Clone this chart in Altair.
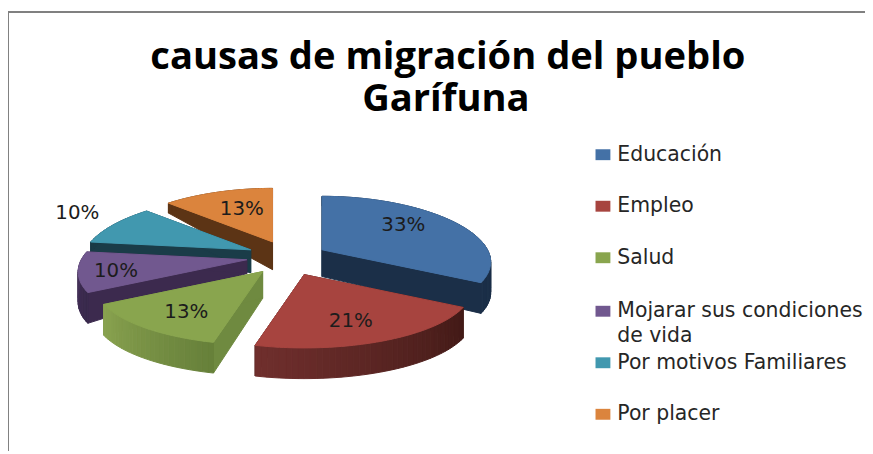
import math
import altair as alt

# ---- data ----
CATEGORIES = ["Educación", "Empleo", "Salud", "Mojarar sus condiciones", "Por motivos Familiares", "Por placer"]
VALUES = [33, 21, 13, 10, 10, 13]
LABELS = ["33%", "21%", "13%", "10%", "10%", "13%"]
TITLE_LINES = ["causas de migración del pueblo", "Garífuna"]

# ---- style / layout (page pixels, reduced by the 8px body margin below) ----
TOP = ["#4471a6", "#a7443f", "#89a54e", "#71588f", "#4198af", "#db843d"]
WALL_A = ["#22405f", "#702f2d", "#8aa350", "#4a3660", "#1a3c48", "#5c3415"]
WALL_B = ["#1b2f48", "#421a17", "#66803a", "#38284a", "#1a3c48", "#5c3415"]
RADIAL = ["#1b2f48", "#421a17", "#6f8a40", "#3c2a4e", "#1a3c48", "#5c3415"]
APEX = [(323, 250), (305, 275), (263, 272), (247, 260), (251, 250), (273, 242)]
APEX_DEPTH = [27, 27, 27, 14, 23, 28]
LABEL_POS = [(404, 225), (351, 322), (185, 313), (114, 271), (75, 213), (241, 209)]
LEGEND_Y = [154, 206, 258, 312, 364, 416]
RX, RY, P, Q = 167, 64, 0.2, 10
M = 8
MX = 3
MX_PIE = 6
MX_LABEL = 5
DRAW_ORDER = [5, 4, 3, 2, 0, 1]


def rim(i, th):
    s, c = math.sin(th), math.cos(th)
    ax, ay = APEX[i]
    return ax + RX * s * (1 - P * c), ay - c * (RY - Q * c)


def rim_depth(th):
    c = math.cos(th)
    if c <= -0.2:
        return 31.0
    return max(10.0, 31 - (c + 0.2) / 0.325 * 21)


def mix(a, b, t):
    ca = [int(a[k:k + 2], 16) for k in (1, 3, 5)]
    cb = [int(b[k:k + 2], 16) for k in (1, 3, 5)]
    return "#%02x%02x%02x" % tuple(round(x + (y - x) * t) for x, y in zip(ca, cb))


def feature(points, color):
    ring = [[x - MX_PIE, y - M] for x, y in points]
    ring.append(ring[0])
    return {
        "type": "Feature",
        "properties": {"c": color},
        "geometry": {"type": "Polygon", "coordinates": [ring]},
    }


total = sum(VALUES)
starts, acc = [], 0
for v in VALUES:
    starts.append(acc / total * 2 * math.pi)
    acc += v

features = []
for i in DRAW_ORDER:
    a0 = starts[i]
    a1 = a0 + VALUES[i] / total * 2 * math.pi
    ax, ay = APEX[i]
    d0 = APEX_DEPTH[i]
    for th in (a0, a1):
        x, y = rim(i, th)
        features.append(feature(
            [(ax, ay), (x, y), (x, y + rim_depth(th)), (ax, ay + d0)], RADIAL[i]))
    steps = max(8, VALUES[i] * 2)
    for k in range(steps):
        t0 = a0 + (a1 - a0) * k / steps
        t1 = a0 + (a1 - a0) * (k + 1) / steps
        x0, y0 = rim(i, t0)
        x1, y1 = rim(i, t1)
        # shading runs left to right across the front of the slice
        shade = mix(WALL_B[i], WALL_A[i], (k + 0.5) / steps) if i != 0 else WALL_B[i]
        features.append(feature(
            [(x0, y0), (x1, y1), (x1, y1 + rim_depth(t1)), (x0, y0 + rim_depth(t0))], shade))
    pts = [(ax, ay)]
    n = max(16, VALUES[i] * 3)
    for k in range(n + 1):
        pts.append(rim(i, a0 + (a1 - a0) * k / n))
    features.append(feature(pts, TOP[i]))

pie = alt.Chart(
    alt.InlineData(values={"type": "FeatureCollection", "features": features},
                   format=alt.DataFormat(property="features", type="json"))
).mark_geoshape(strokeWidth=1, strokeJoin="round").encode(
    fill=alt.Fill("properties.c:N", scale=None, legend=None),
    stroke=alt.Stroke("properties.c:N", scale=None, legend=None),
).project(type="identity", scale=1, translate=[0, 0])

label_rows = [{"t": t, "x": p[0] - MX_LABEL, "y": p[1] - M} for t, p in zip(LABELS, LABEL_POS)]
pct = alt.Chart(alt.Data(values=label_rows)).mark_text(
    font="DejaVu Sans", fontSize=20, color="#1c1c1c", baseline="middle", align="center"
).encode(x=alt.X("x:Q", scale=None, axis=None), y=alt.Y("y:Q", scale=None, axis=None), text="t:N")

title_rows = [{"t": TITLE_LINES[0], "x": 447 - MX, "y": 55 - M}, {"t": TITLE_LINES[1], "x": 445 - MX, "y": 98 - M}]
title = alt.Chart(alt.Data(values=title_rows)).mark_text(
    font="Open Sans", fontSize=38.5, fontWeight="bold", color="#000000", baseline="middle", align="center"
).encode(x=alt.X("x:Q", scale=None, axis=None), y=alt.Y("y:Q", scale=None, axis=None), text="t:N")

swatch_rows = [{"x": 596 - MX, "x2": 611 - MX, "y": y - 5.5 - M, "y2": y + 5.5 - M, "c": c}
               for y, c in zip(LEGEND_Y, TOP)]
swatches = alt.Chart(alt.Data(values=swatch_rows)).mark_rect().encode(
    x=alt.X("x:Q", scale=None, axis=None), x2="x2:Q",
    y=alt.Y("y:Q", scale=None, axis=None), y2="y2:Q",
    color=alt.Color("c:N", scale=None, legend=None),
)

legend_rows = []
for name, y in zip(CATEGORIES, LEGEND_Y):
    if name.startswith("Mojarar"):
        legend_rows.append({"t": "Mojarar sus condiciones", "x": 618 - MX, "y": y - M})
        legend_rows.append({"t": "de vida", "x": 618 - MX, "y": y + 25 - M})
    else:
        legend_rows.append({"t": name, "x": 618 - MX, "y": y - M})
legend = alt.Chart(alt.Data(values=legend_rows)).mark_text(
    font="DejaVu Sans", fontSize=20.6, color="#262626", baseline="middle", align="left"
).encode(x=alt.X("x:Q", scale=None, axis=None), y=alt.Y("y:Q", scale=None, axis=None), text="t:N")

frame_top = alt.Chart(alt.Data(values=[{"a": 1}])).mark_rule(color="#808080", strokeWidth=2).encode(
    x=alt.value(0), x2=alt.value(865), y=alt.value(2))
frame_left = alt.Chart(alt.Data(values=[{"a": 1}])).mark_rule(color="#808080", strokeWidth=2).encode(
    x=alt.value(0), y=alt.value(2), y2=alt.value(445))

chart = alt.layer(frame_top, frame_left, pie, pct, title, swatches, legend).properties(
    width=865, height=445, padding=0, autosize=alt.AutoSizeParams(type="none"),
    background="white",
).configure_view(stroke=None)

chart.save("out.html", embed_options={"renderer": "svg", "actions": False})
